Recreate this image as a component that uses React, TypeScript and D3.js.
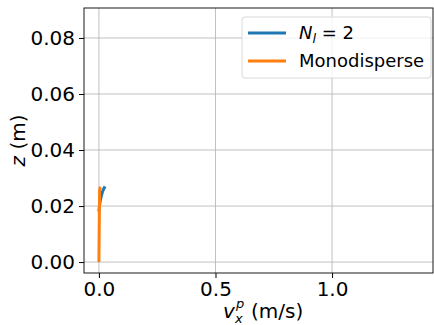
import { useEffect, useRef } from 'react';
import * as d3 from 'd3';

// velocity (m/s) and height (m) along each trajectory
const polyV = [0, 0.001, 0.003, 0.006, 0.010, 0.015, 0.020, 0.026];
const polyZ = [0.018, 0.019, 0.0205, 0.022, 0.0235, 0.025, 0.026, 0.027];
const monoV = [0, 0.0005, 0.001, 0.0015, 0.002, 0.0025, 0.003, 0.005, 0.008];
const monoZ = [0, 0.005, 0.010, 0.014, 0.018, 0.022, 0.0255, 0.0265, 0.0268];
const seriesNames = ['Nl', 'Monodisperse'];
const seriesColors = ['#1f77b4', '#ff7f0e'];
const xTicks = [0, 0.5, 1.0];
const yTicks = [0, 0.02, 0.04, 0.06, 0.08];

export default function App() {
  const svgRef = useRef<SVGSVGElement | null>(null);

  useEffect(() => {
    if (!svgRef.current) return;
    const svg = d3.select(svgRef.current);
    svg.selectAll('*').remove();
    const width = 434;
    const height = 325;
    const margin = { top: 8, right: 1, bottom: 52, left: 84 };
    const font = 'DejaVu Sans, sans-serif';
    const fs = 20;

    const x = d3.scaleLinear().domain([-0.064, 1.433]).range([margin.left, width - margin.right]);
    const y = d3.scaleLinear().domain([-0.0039, 0.0907]).range([height - margin.bottom, margin.top]);

    // grid
    const grid = svg.append('g');
    xTicks.forEach(t => {
      grid.append('line')
        .attr('x1', x(t)).attr('x2', x(t))
        .attr('y1', margin.top).attr('y2', height - margin.bottom)
        .attr('stroke', '#b0b0b0').attr('stroke-width', 0.8);
    });
    yTicks.forEach(t => {
      grid.append('line')
        .attr('x1', margin.left).attr('x2', width - margin.right)
        .attr('y1', y(t)).attr('y2', y(t))
        .attr('stroke', '#b0b0b0').attr('stroke-width', 0.8);
    });

    const line = d3.line<[number, number]>().x(d => x(d[0])).y(d => y(d[1]));
    const poly = polyV.map((v, i) => [v, polyZ[i]] as [number, number]);
    const mono = monoV.map((v, i) => [v, monoZ[i]] as [number, number]);
    [poly, mono].forEach((pts, i) => {
      svg.append('path')
        .attr('d', line(pts))
        .attr('fill', 'none')
        .attr('stroke', seriesColors[i])
        .attr('stroke-width', 3);
    });

    // axes
    const xAxis = svg.append('g')
      .attr('transform', `translate(0,${height - margin.bottom})`)
      .call(d3.axisBottom(x).tickValues(xTicks).tickFormat(d3.format('.1f')).tickSize(5).tickPadding(4));
    const yAxis = svg.append('g')
      .attr('transform', `translate(${margin.left},0)`)
      .call(d3.axisLeft(y).tickValues(yTicks).tickFormat(d3.format('.2f')).tickSize(5).tickPadding(4));
    [xAxis, yAxis].forEach(a => {
      a.select('.domain').remove();
      a.selectAll('text').attr('font-family', font).attr('font-size', fs).attr('fill', '#000');
      a.selectAll('line').attr('stroke', '#000');
    });

    svg.append('rect')
      .attr('x', margin.left).attr('y', margin.top)
      .attr('width', width - margin.right - margin.left)
      .attr('height', height - margin.bottom - margin.top)
      .attr('fill', 'none').attr('stroke', '#000').attr('stroke-width', 0.9);

    // axis labels
    const lx = 223;
    const ly = 318;
    svg.append('text').attr('x', lx).attr('y', ly)
      .attr('font-family', font).attr('font-size', fs).attr('font-style', 'italic').text('v');
    svg.append('text').attr('x', lx + 13).attr('y', ly - 10)
      .attr('font-family', font).attr('font-size', 13).attr('font-style', 'italic').text('p');
    svg.append('text').attr('x', lx + 12).attr('y', ly + 5)
      .attr('font-family', font).attr('font-size', 13).attr('font-style', 'italic').text('x');
    svg.append('text').attr('x', lx + 28).attr('y', ly)
      .attr('font-family', font).attr('font-size', fs).text('(m/s)');

    const yl = svg.append('text')
      .attr('transform', `translate(25,${(margin.top + height - margin.bottom) / 2}) rotate(-90)`)
      .attr('text-anchor', 'middle')
      .attr('font-family', font).attr('font-size', fs);
    yl.append('tspan').attr('font-style', 'italic').text('z');
    yl.append('tspan').text(' (m)');

    // legend
    const lg = svg.append('g').attr('transform', 'translate(242,17)');
    lg.append('rect')
      .attr('width', 189).attr('height', 61).attr('rx', 3)
      .attr('fill', 'rgba(255,255,255,0.8)').attr('stroke', '#d9d9d9');
    seriesNames.forEach((name, i) => {
      const cy = 16 + i * 28;
      lg.append('line')
        .attr('x1', 6).attr('x2', 44).attr('y1', cy).attr('y2', cy)
        .attr('stroke', seriesColors[i]).attr('stroke-width', 3);
      const t = lg.append('text')
        .attr('x', 57).attr('y', cy + 6)
        .attr('font-family', font).attr('font-size', 18);
      if (name === 'Nl') {
        t.append('tspan').attr('font-style', 'italic').text('N');
        t.append('tspan').attr('font-style', 'italic').attr('font-size', 13).attr('dy', 4).text('l');
        t.append('tspan').attr('dy', -4).text(' = 2');
      } else {
        t.text(name);
      }
    });
  }, []);

  return (
    <svg ref={svgRef} width={434} height={325}
      style={{ position: 'absolute', left: 0, top: 0, background: '#fff' }} />
  );
}
